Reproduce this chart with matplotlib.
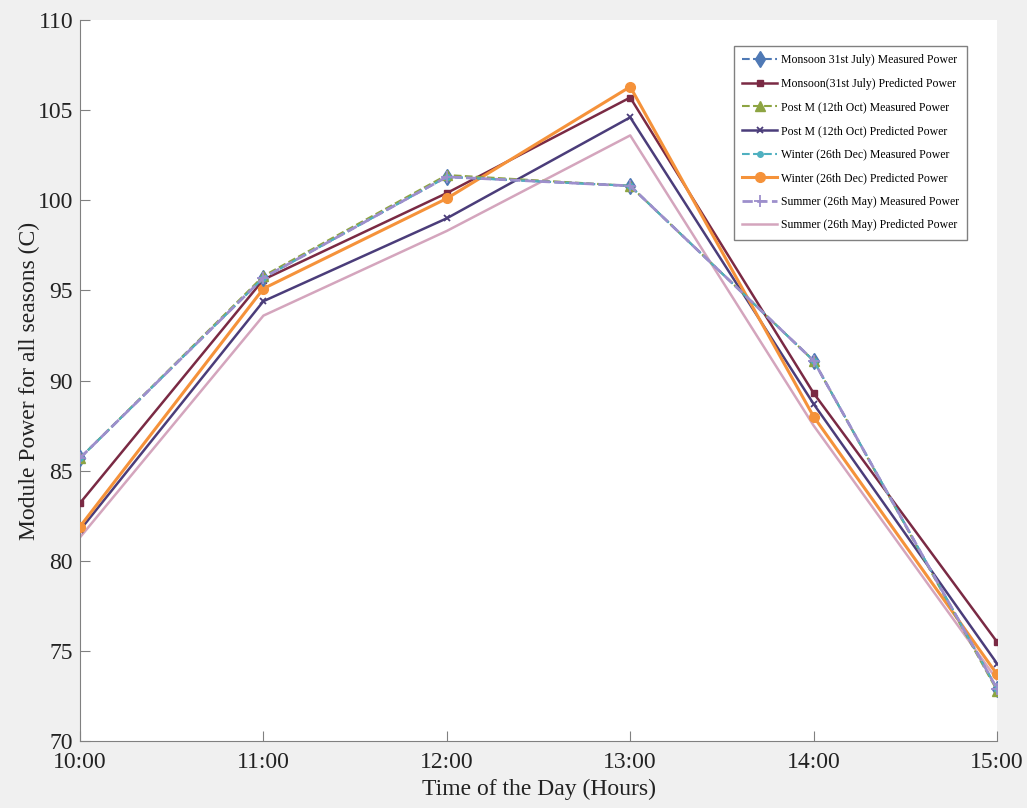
import matplotlib.pyplot as plt
import numpy as np

plt.rcParams['font.family'] = ['Liberation Serif', 'DejaVu Serif']

hours = ['10:00', '11:00', '12:00', '13:00', '14:00', '15:00']

monsoon_meas = [85.7, 95.7, 101.3, 100.8, 91.1, 72.9]
monsoon_pred = [83.2, 95.6, 100.4, 105.7, 89.3, 75.5]
postm_meas = [85.7, 95.8, 101.4, 100.8, 91.1, 72.8]
postm_pred = [81.7, 94.4, 99.0, 104.6, 88.7, 74.3]
winter_meas = [85.7, 95.7, 101.3, 100.8, 91.1, 72.9]
winter_pred = [81.9, 95.1, 100.1, 106.3, 88.0, 73.7]
summer_meas = [85.7, 95.7, 101.3, 100.8, 91.1, 72.9]
summer_pred = [81.3, 93.6, 98.3, 103.6, 87.5, 73.4]

x = np.arange(len(hours))

fig = plt.figure(figsize=(10.27, 8.08), dpi=100, facecolor='#f0f0f0')
ax = fig.add_axes([0.0779, 0.0829, 0.8929, 0.8923])

ax.plot(x, monsoon_pred, '-', color='#7a2a44', lw=1.8, marker='s', ms=5,
        label='Monsoon(31st July) Predicted Power', zorder=3)
ax.plot(x, postm_pred, '-', color='#4b3d7a', lw=1.8, marker='x', ms=5, mew=1.3,
        label='Post M (12th Oct) Predicted Power', zorder=3)
ax.plot(x, winter_pred, '-', color='#f5923a', lw=2.2, marker='o', ms=7,
        label='Winter (26th Dec) Predicted Power', zorder=3)
ax.plot(x, summer_pred, '-', color='#d4a5bd', lw=1.8,
        label='Summer (26th May) Predicted Power', zorder=2)

ax.plot(x, monsoon_meas, '--', color='#4f79b5', lw=1.5, marker='d', ms=8,
        label='Monsoon 31st July) Measured Power', zorder=4)
ax.plot(x, postm_meas, '--', color='#8da442', lw=1.5, marker='^', ms=7,
        label='Post M (12th Oct) Measured Power', zorder=4)
ax.plot(x, winter_meas, '--', color='#4fb0c0', lw=1.5, marker='o', ms=4,
        label='Winter (26th Dec) Measured Power', zorder=4)
ax.plot(x, summer_meas, '--', color='#9d8fcc', lw=2, marker='+', ms=8, mew=1.3,
        label='Summer (26th May) Measured Power', zorder=5)

handles, labels = ax.get_legend_handles_labels()
order = [4, 0, 5, 1, 6, 2, 7, 3]
leg = ax.legend([handles[i] for i in order], [labels[i] for i in order],
                loc='upper right', bbox_to_anchor=(0.974, 0.972), fontsize=8.5,
                handlelength=3.0, labelspacing=0.98, borderpad=0.7,
                handletextpad=0.3, fancybox=False, framealpha=1)
leg.get_frame().set_edgecolor('#808080')
leg.get_frame().set_linewidth(1)

ax.set_xlim(0, 5)
ax.set_ylim(70, 110)
ax.set_xticks(x)
ax.set_xticklabels(hours)
ax.set_yticks(np.arange(70, 111, 5))
ax.tick_params(direction='in', length=7, color='#808080', labelsize=17,
               labelcolor='#222222')
ax.tick_params(axis='x', pad=8)
ax.tick_params(axis='y', pad=5)
for s in ['top', 'right']:
    ax.spines[s].set_visible(False)
for s in ['left', 'bottom']:
    ax.spines[s].set_color('#808080')

ax.set_xlabel('Time of the Day (Hours)', fontsize=17, color='#222222', labelpad=4)
ax.set_ylabel('Module Power for all seasons (C)', fontsize=17, color='#222222', labelpad=-2)

fig.savefig('out.png', dpi=100, facecolor=fig.get_facecolor())
